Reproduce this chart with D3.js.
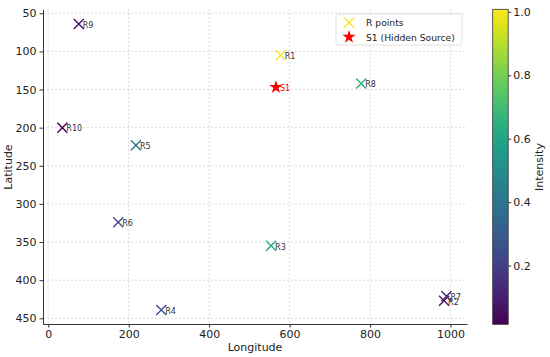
<!DOCTYPE html>
<html>
<head>
<meta charset="utf-8">
<script src="https://cdn.jsdelivr.net/npm/d3@7"></script>
<style>
  body { margin: 0; background: #fff; }
  text { font-family: "DejaVu Sans", sans-serif; }
</style>
</head>
<body>
<svg id="chart" width="550" height="357"></svg>
<script>
// datos de los puntos R
const names = ["R1", "R2", "R3", "R4", "R5", "R6", "R7", "R8", "R9", "R10"];
const lon = [578, 984, 554, 281, 218, 174, 990, 778, 76, 35];
const lat = [105, 427, 355, 439, 223, 324, 421, 142, 64, 200];
const intensity = [1.008, 0.07, 0.62, 0.27, 0.4, 0.25, 0.1, 0.65, 0.05, 0.015];

// fuente oculta
const source = { name: "S1", lon: 566, lat: 147 };

const xTicks = [0, 200, 400, 600, 800, 1000];
const yTicks = [50, 100, 150, 200, 250, 300, 350, 400, 450];
const cTicks = [0.2, 0.4, 0.6, 0.8, 1.0];

const svg = d3.select("#chart");

const x = d3.scaleLinear().domain([-13, 1041]).range([43, 467]);
const y = d3.scaleLinear().domain([44.8, 457.5]).range([9.3, 324]);
const color = d3.scaleSequential(d3.interpolateViridis).domain(d3.extent(intensity));

// rejilla
svg.append("g").selectAll("line").data(xTicks).enter().append("line")
  .attr("x1", d => x(d)).attr("x2", d => x(d))
  .attr("y1", y.range()[0]).attr("y2", y.range()[1])
  .attr("stroke", "#d0d0d0").attr("stroke-width", 0.8).attr("stroke-dasharray", "2,2");
svg.append("g").selectAll("line").data(yTicks).enter().append("line")
  .attr("y1", d => y(d)).attr("y2", d => y(d))
  .attr("x1", x.range()[0]).attr("x2", x.range()[1])
  .attr("stroke", "#d0d0d0").attr("stroke-width", 0.8).attr("stroke-dasharray", "2,2");

// ejes
const xAxis = svg.append("g").attr("transform", "translate(0,324)")
  .call(d3.axisBottom(x).tickValues(xTicks).tickFormat(d3.format("d")).tickSize(3.5).tickPadding(3).tickSizeOuter(0));
const yAxis = svg.append("g").attr("transform", "translate(43,0)")
  .call(d3.axisLeft(y).tickValues(yTicks).tickFormat(d3.format("d")).tickSize(3.5).tickPadding(3).tickSizeOuter(0));
[xAxis, yAxis].forEach(a => {
  a.selectAll("text").attr("font-size", 11).attr("fill", "#222").style("font-family", "DejaVu Sans");
  a.select(".domain").attr("stroke", "#333").attr("stroke-width", 1);
  a.selectAll(".tick line").attr("stroke", "#333");
});

svg.append("text").attr("x", 255).attr("y", 351).attr("text-anchor", "middle")
  .attr("font-size", 11).attr("fill", "#222").text("Longitude");
svg.append("text").attr("transform", "translate(12,167) rotate(-90)").attr("text-anchor", "middle")
  .attr("font-size", 11).attr("fill", "#222").text("Latitude");

// marcadores X
const pts = names.map((n, i) => ({ name: n, lon: lon[i], lat: lat[i], v: intensity[i] }));
const xs = 5;
const g = svg.append("g").selectAll("g").data(pts).enter().append("g")
  .attr("transform", d => `translate(${x(d.lon)},${y(d.lat)})`);
g.append("path")
  .attr("d", `M${-xs},${-xs}L${xs},${xs}M${-xs},${xs}L${xs},${-xs}`)
  .attr("stroke", d => color(d.v)).attr("stroke-width", 1.4).attr("fill", "none");

svg.append("g").selectAll("text").data(pts).enter().append("text")
  .attr("x", d => x(d.lon + 10)).attr("y", d => y(d.lat + 5))
  .attr("font-size", 8).attr("fill", "#333").text(d => d.name);

// fuente
svg.append("path")
  .attr("d", d3.symbol(d3.symbolStar, 55)())
  .attr("transform", `translate(${x(source.lon)},${y(source.lat)})`)
  .attr("fill", "red");
svg.append("text").attr("x", x(source.lon + 10)).attr("y", y(source.lat + 5))
  .attr("font-size", 8).attr("fill", "red").text(source.name);

// leyenda
const leg = svg.append("g");
leg.append("rect").attr("x", 336).attr("y", 14).attr("width", 126).attr("height", 31).attr("rx", 2)
  .attr("fill", "white").attr("fill-opacity", 0.8).attr("stroke", "#d8d8d8").attr("stroke-width", 0.8);
leg.append("path").attr("d", `M${349 - xs},${22.7 - xs}L${349 + xs},${22.7 + xs}M${349 - xs},${22.7 + xs}L${349 + xs},${22.7 - xs}`)
  .attr("stroke", color(d3.max(intensity))).attr("stroke-width", 1.4);
leg.append("path").attr("d", d3.symbol(d3.symbolStar, 55)()).attr("transform", "translate(349,37)").attr("fill", "red");
leg.append("text").attr("x", 366).attr("y", 26).attr("font-size", 9.2).attr("fill", "#222").text("R points");
leg.append("text").attr("x", 366).attr("y", 40.5).attr("font-size", 9.2).attr("fill", "#222").text("S1 (Hidden Source)");

// barra de color
const cy = d3.scaleLinear().domain(d3.extent(intensity)).range([324.3, 9.3]);
const grad = svg.append("defs").append("linearGradient").attr("id", "vir")
  .attr("x1", 0).attr("y1", 1).attr("x2", 0).attr("y2", 0);
d3.range(0, 1.001, 0.05).forEach(t => {
  grad.append("stop").attr("offset", t).attr("stop-color", d3.interpolateViridis(t));
});
svg.append("rect").attr("x", 492.7).attr("y", 9.3).attr("width", 15.5).attr("height", 315)
  .attr("fill", "url(#vir)").attr("stroke", "#333").attr("stroke-width", 0.8);
const cAxis = svg.append("g").attr("transform", "translate(508.2,0)")
  .call(d3.axisRight(cy).tickValues(cTicks).tickFormat(d3.format(".1f")).tickSize(3).tickPadding(2).tickSizeOuter(0));
cAxis.select(".domain").remove();
cAxis.selectAll("text").attr("font-size", 11).attr("fill", "#222").style("font-family", "DejaVu Sans");
cAxis.selectAll(".tick line").attr("stroke", "#333");
svg.append("text").attr("transform", "translate(543,167) rotate(-90)").attr("text-anchor", "middle")
  .attr("font-size", 11).attr("fill", "#222").text("Intensity");
</script>
</body>
</html>
